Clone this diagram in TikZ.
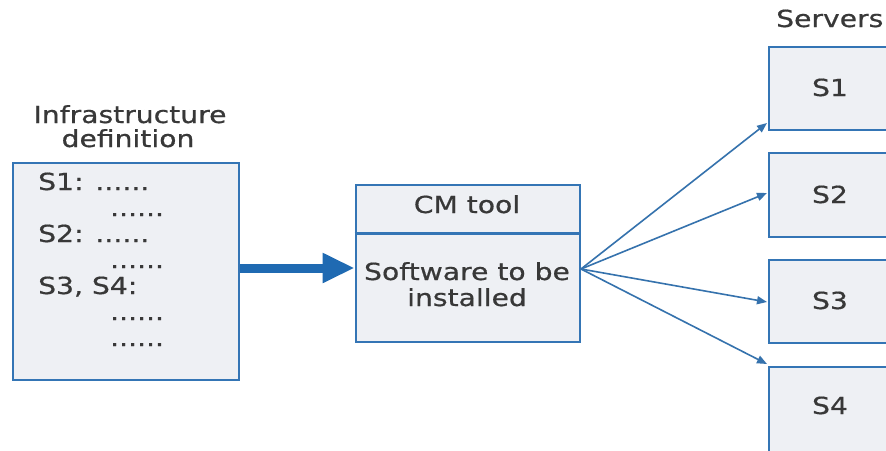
\documentclass[tikz,border=0pt]{standalone}
\usepackage{fontspec}
\setmainfont{DejaVu Sans}[FakeStretch=1.2,FakeBold=0.6]
\usetikzlibrary{arrows.meta}
\definecolor{bordc}{HTML}{3475B5}
\definecolor{fillc}{HTML}{EEF0F4}
\definecolor{txtc}{HTML}{383838}
\definecolor{arrc}{HTML}{1F6AB2}
\definecolor{thinc}{HTML}{3572AD}
\begin{document}
\begin{tikzpicture}[x=1pt,y=-1pt,
  box/.style={draw=bordc, fill=fillc, line width=2.8pt, inner sep=0pt, rectangle},
  lbl/.style={font=\fontsize{23.5}{26}\selectfont, text=txtc, inner sep=0pt, anchor=base},
  lblw/.style={lbl, anchor=base west},
  thick arrow/.style={draw=arrc, line width=9pt, -{Triangle[length=32pt,width=28pt]}},
  thin arrow/.style={draw=thinc, line width=1.6pt, -{Triangle[length=10pt,width=8pt]}}]
\useasboundingbox (0,0) rectangle (886,450);
\clip (0,0) rectangle (886,450);
\fill[white] (0,0) rectangle (886,450);

% infrastructure definition
\node[lbl] (inft1) at (130,123) {Infrastructure};
\node[lbl] (inft2) at (128,147) {definition};
\node[box, minimum width=226pt, minimum height=217pt] (infra) at (126,271.5) {};
\node[lblw] (l1) at (38,190) {S1: ......};
\node[lblw] (l2) at (110,216) {......};
\node[lblw] (l3) at (38,242) {S2: ......};
\node[lblw] (l4) at (110,268) {......};
\node[lblw] (l5) at (38,294) {S3, S4:};
\node[lblw] (l6) at (110,320) {......};
\node[lblw] (l7) at (110,346) {......};

% CM tool
\node[box, minimum width=224pt, minimum height=157pt] (cm) at (468,263.5) {};
\draw[draw=bordc, line width=2.8pt] ([yshift=-50pt]cm.north west) -- ([yshift=-50pt]cm.north east);
\node[lbl] (cmt) at (467,213) {CM tool};
\node[lbl] (sw1) at (467,280) {Software to be};
\node[lbl] (sw2) at (467,306) {installed};

% servers
\node[lblw] (srv) at (776,27) {Servers};
\node[box, minimum width=124pt, minimum height=83pt] (s1) at (831,88.5) {};
\node[box, minimum width=124pt, minimum height=84pt] (s2) at (831,195) {};
\node[box, minimum width=124pt, minimum height=83pt] (s3) at (831,301.5) {};
\node[box, minimum width=124pt, minimum height=113pt] (s4) at (831,423.5) {};
\node[lbl] (s1t) at (830,96) {S1};
\node[lbl] (s2t) at (830,203) {S2};
\node[lbl] (s3t) at (830,309) {S3};
\node[lbl] (s4t) at (830,414) {S4};

% connectors
\coordinate (src) at (581,269);
\coordinate (t1) at (767,123);
\coordinate (t2) at (767,193);
\coordinate (t3) at (767,302);
\coordinate (t4) at (767,364);
\draw[thick arrow] (infra.east |- 0,268) -- (cm.west |- 0,268);
\draw[thin arrow] (src) -- (t1);
\draw[thin arrow] (src) -- (t2);
\draw[thin arrow] (src) -- (t3);
\draw[thin arrow] (src) -- (t4);
\end{tikzpicture}
\end{document}
